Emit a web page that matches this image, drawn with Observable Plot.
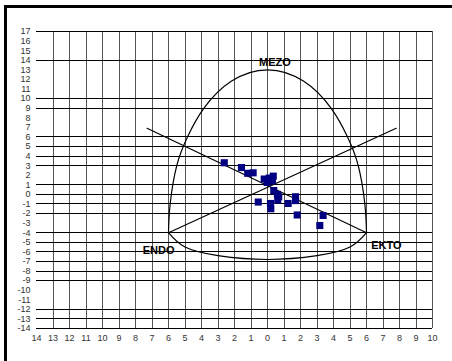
<!DOCTYPE html>
<html>
<head>
<meta charset="utf-8">
<script src="https://cdn.jsdelivr.net/npm/d3@7"></script>
<script src="https://cdn.jsdelivr.net/npm/@observablehq/plot@0.6"></script>
<style>
  html, body { margin: 0; padding: 0; background: #fff; }
  #wrap { position: relative; width: 452px; height: 361px; overflow: hidden; }
  #frame { position: absolute; left: 4px; top: 5px; width: 448px; height: 356px;
           border-top: 3px solid #000; border-left: 3px solid #000; box-sizing: border-box; pointer-events: none; }
  #chart { position: absolute; left: 0; top: 0; }
</style>
</head>
<body>
<div id="wrap"><div id="chart"></div><div id="frame"></div></div>
<script>
// Axis ticks
const xTicks = d3.range(-14, 11);
const yTicks = d3.range(-14, 18);
// Gridlines present in the chart
const hGrid = [17, 14, 10, 9, 6, 5, 4, 3, 1, 0, -1, -2, -4, -5, -6, -7, -8, -9, -12, -13, -14];
const vGrid = d3.range(-13, 11);

// Somatochart boundary
const upperArcX = [-6, -5.9, -5.5, -4.85, -3.85, -2.2, 0, 2.2, 3.85, 4.85, 5.5, 5.9, 6];
const upperArcY = [-4, -1, 3, 6, 9, 11.8, 13, 11.8, 9, 6, 3, -1, -4];
const lowerArcX = [-6, -5, -3, 0, 3, 5, 6];
const lowerArcY = [-4, -5.5, -6.4, -6.8, -6.4, -5.5, -4];

// Diagonal lines
const lineAX = [-7.3, 6];
const lineAY = [6.9, -4];
const lineBX = [-6, 7.8];
const lineBY = [-4, 6.9];

// Subjects (somatopoints)
const pointX = [-2.62, -1.58, -1.2, -0.87, -0.2, 0.1, 0.35, 0.3, -0.02, 0.38, 0.6, 0.68, -0.56, 0.18, 0.2, 0.62, 1.25, 1.7, 1.7, 1.8, 3.37, 3.17];
const pointY = [3.3, 2.8, 2.2, 2.25, 1.6, 1.7, 1.9, 1.4, 1.25, 0.4, 0.0, -0.25, -0.8, -0.95, -1.5, -0.6, -0.95, -0.25, -0.65, -2.15, -2.2, -3.25];

// Vertex labels
const labelText = ["MEZO", "ENDO", "EKTO"];
const labelX = [0.45, -6.6, 7.2];
const labelY = [13.8, -5.85, -5.3];

const zip = (xs, ys) => xs.map((x, i) => ({x, y: ys[i]}));
const points = zip(pointX, pointY);
const labels = labelText.map((t, i) => ({t, x: labelX[i], y: labelY[i]}));

const tickFont = "Liberation Sans Narrow, Arial Narrow, sans-serif";

const chart = Plot.plot({
  width: 452,
  height: 361,
  marginLeft: 36,
  marginRight: 20,
  marginTop: 31,
  marginBottom: 33,
  style: {background: "transparent", fontFamily: tickFont, fontSize: "9px", color: "#333"},
  x: {domain: [-14, 10]},
  y: {domain: [-14, 17]},
  marks: [
    Plot.ruleX(vGrid, {x: d => d, y1: -14, y2: 17, stroke: "#555", strokeWidth: 1, shapeRendering: "crispEdges"}),
    Plot.ruleY(hGrid, {y: d => d, x1: -14, x2: 10, stroke: "#000", strokeWidth: 1, shapeRendering: "crispEdges"}),
    Plot.axisX({ticks: xTicks, tickFormat: d => String(Math.abs(d)), tickSize: 0, tickPadding: 6, label: null, fill: "#333"}),
    Plot.axisY({ticks: yTicks, tickFormat: d => String(d), tickSize: 0, tickPadding: 6, label: null, fill: "#333"}),
    Plot.line(zip(upperArcX, upperArcY), {x: "x", y: "y", curve: "natural", stroke: "#000", strokeWidth: 1.2}),
    Plot.line(zip(lowerArcX, lowerArcY), {x: "x", y: "y", curve: "natural", stroke: "#000", strokeWidth: 1.2}),
    Plot.line(zip(lineAX, lineAY), {x: "x", y: "y", stroke: "#000", strokeWidth: 1.2}),
    Plot.line(zip(lineBX, lineBY), {x: "x", y: "y", stroke: "#000", strokeWidth: 1.2}),
    Plot.dot(points, {x: "x", y: "y", symbol: "square", r: 4, fill: "#000080", stroke: "none"}),
    Plot.text(labels, {x: "x", y: "y", text: "t", fontSize: 11, fontWeight: "bold", fill: "#000",
      fontFamily: "Liberation Sans, Arial, sans-serif"})
  ]
});
document.getElementById("chart").appendChild(chart);
</script>
</body>
</html>
